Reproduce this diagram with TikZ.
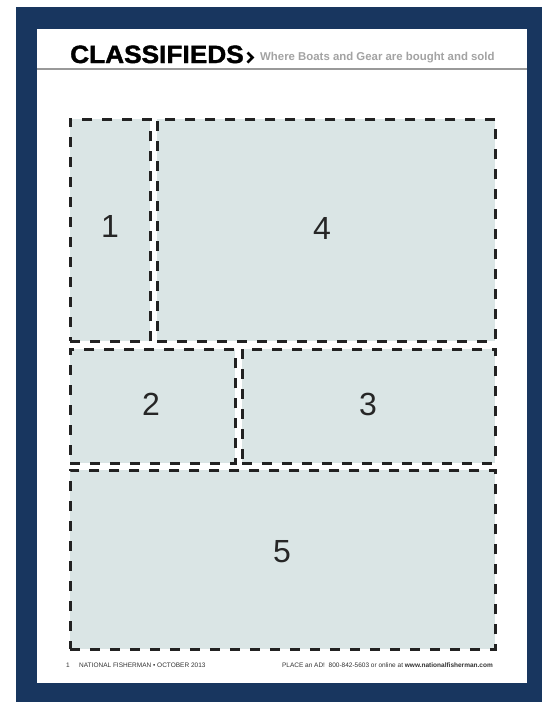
\documentclass[tikz,border=0pt]{standalone}
\usepackage{fontspec}
\setmainfont{Liberation Sans}
\definecolor{navy}{HTML}{18365F}
\definecolor{boxfill}{HTML}{DAE5E5}
\definecolor{dashcol}{HTML}{222222}
\definecolor{subgrey}{HTML}{A3A3A3}
\definecolor{rulegrey}{HTML}{999999}
\tikzset{
  adbox/.style={draw=dashcol, fill=boxfill, line width=2.8pt, dash pattern=on 10pt off 10pt, rectangle, inner sep=0pt},
  adnum/.style={font=\fontsize{32}{32}\selectfont, text=black!85, inner sep=0pt},
  foot/.style={font=\fontsize{6.5}{7}\selectfont, text=black!80, inner sep=0pt, anchor=base west}
}
\begin{document}
\begin{tikzpicture}[x=1pt,y=-1pt]
\useasboundingbox (0,0) rectangle (542,702);
\fill[navy] (16,7) rectangle (542,702);
\fill[white] (37,29) rectangle (527,683);
% header
\node[inner sep=0pt, anchor=base west, font=\fontsize{25}{25}\bfseries\selectfont] (title) at (70,63) {\addfontfeatures{FakeStretch=1.05,FakeBold=1.6}CLASSIFIEDS};
\coordinate (c1) at (247.5,52.5);
\coordinate (c2) at (252.5,57.5);
\coordinate (c3) at (247.5,62.5);
\draw[black, line width=2.6pt, line join=miter] (c1) -- (c2) -- (c3);
\node[inner sep=0pt, anchor=base west, text=subgrey, font=\fontsize{11.4}{12}\bfseries\selectfont] (sub) at (260,60.5) {Where Boats and Gear are bought and sold};
\coordinate (rl) at (37,69);
\coordinate (rr) at (527,69);
\draw[rulegrey, line width=2pt] (rl) -- (rr);
% boxes
\node[adbox, minimum width=80pt, minimum height=222pt, anchor=north west] (b1) at (69,118) {};
\node[adbox, minimum width=338pt, minimum height=222pt, anchor=north west] (b4) at (156,118) {};
\node[adbox, minimum width=165pt, minimum height=114pt, anchor=north west] (b2) at (69,348) {};
\node[adbox, minimum width=253pt, minimum height=114pt, anchor=north west] (b3) at (241,348) {};
\node[adbox, minimum width=425pt, minimum height=179pt, anchor=north west] (b5) at (69,469) {};
\node[adnum] (n1) at (110,226) {1};
\node[adnum] (n4) at (322,228) {4};
\node[adnum] (n2) at (151,404) {2};
\node[adnum] (n3) at (368,404) {3};
\node[adnum] (n5) at (282,552) {5};
% footer
\node[foot] (f1) at (66,667.5) {1};
\node[foot] (f2) at (79,667.5) {NATIONAL FISHERMAN • OCTOBER 2013};
\node[foot, anchor=base east] (f3) at (493,667.5) {PLACE an AD!\ \ 800-842-5603 or online at \textbf{www.nationalfisherman.com}};
\end{tikzpicture}
\end{document}
